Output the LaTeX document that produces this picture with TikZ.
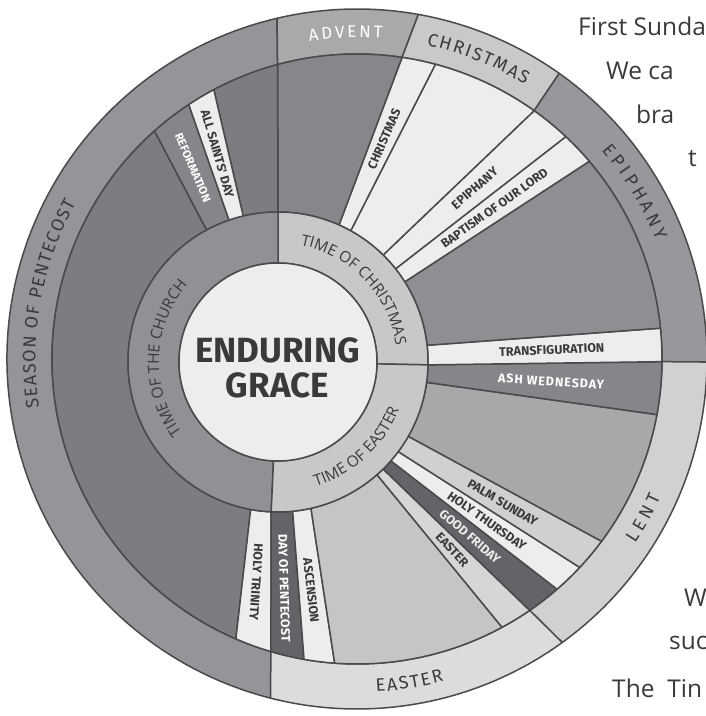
\documentclass[tikz,border=0pt]{standalone}
\usepackage{fontspec}
\setmainfont{Open Sans}
\newfontfamily\fira{Fira Sans}
\usetikzlibrary{calc,decorations.text}
\definecolor{edge}{HTML}{4A4A4D}
\definecolor{ink}{HTML}{3A3A3C}
\definecolor{ringpent}{HTML}{949598}
\definecolor{ringadv}{HTML}{A8A9AB}
\definecolor{ringxmas}{HTML}{C9C9CB}
\definecolor{ringepi}{HTML}{97989B}
\definecolor{ringlent}{HTML}{D1D1D3}
\definecolor{ringeast}{HTML}{DCDCDD}
\definecolor{pent}{HTML}{7C7D80}
\definecolor{adv}{HTML}{86878A}
\definecolor{epi}{HTML}{8E8F92}
\definecolor{lent}{HTML}{A7A8AA}
\definecolor{east}{HTML}{C4C5C7}
\definecolor{eastday}{HTML}{D6D6D7}
\definecolor{palm}{HTML}{D0D0D1}
\definecolor{feast}{HTML}{EDEDED}
\definecolor{midday}{HTML}{85868A}
\definecolor{darkday}{HTML}{636467}
\definecolor{hubl}{HTML}{C8C8CA}
\definecolor{hubd}{HTML}{909194}
\tikzset{
  part/.style={draw=edge, line width=1.5},
  daylbl/.style={font=\fira\bfseries\fontsize{12.5}{12.5}\selectfont, text=ink, inner sep=0pt, sloped, allow upside down, pos=0.53},
  daywht/.style={daylbl, text=white},
  body/.style={font=\fontsize{24.5}{24.5}\selectfont, text=ink, anchor=base west, inner sep=0pt}
}
% label along a band, read from the hub outwards
\newcommand\daylabel[5]{\path ([shift={(#2:\rhub)}]H) -- node[#4] (#1) {#5} ([shift={(#3:\rin)}]C);}
% label along a band, read from the rim inwards
\newcommand\daylabelin[5]{\path ([shift={(#3:\rin)}]C) -- node[#4, pos=0.47] (#1) {#5} ([shift={(#2:\rhub)}]H);}
% text on an arc: centre, radius, from, to, options, text
\newcommand\ringtext[6]{\path[decorate, decoration={text along path, #5, text={#6}}] ([shift={(#3:#2)}]#1) arc[start angle=#3, end angle=#4, radius=#2];}
\begin{document}
\begin{tikzpicture}[x=1pt, y=1pt, line join=round, line cap=round]
\useasboundingbox (0,0) rectangle (706,716);
\clip (0,0) rectangle (706,716);
\def\rcore{99}
\def\rhub{150}
\def\rin{305}
\def\rout{350}
\coordinate (H) at (278,354);
\coordinate (C) at (357,357);
% seasons on the rim
\foreach \ai/\ao/\bi/\bo/\col in {105.1/103.2/253.6/255.7/ringpent, 81.5/79.9/105.1/103.2/ringadv, 54.5/54.7/81.5/79.9/ringxmas, -0.5/-0.5/54.5/54.7/ringepi, -55.5/-54.1/-0.5/-0.5/ringlent, -106.4/-104.3/-55.5/-54.1/ringeast}
  \path[part, fill=\col] ([shift={(\ai:\rin)}]C) -- ([shift={(\ao:\rout)}]C) arc[start angle=\ao, end angle=\bo, radius=\rout] -- ([shift={(\bi:\rin)}]C) arc[start angle=\bi, end angle=\ai, radius=\rin] -- cycle;
% sundays and feasts
\foreach \pa/\qa/\pb/\qb/\col in {118.4/131.6/259.5/246.6/pent, 259.5/246.6/267.4/253.6/feast, 267.4/253.6/275.6/260/darkday, 275.6/260/282.7/265.8/feast, 282.7/265.8/311.3/298.4/east, 311.3/298.4/314.5/304.5/eastday, 314.5/304.5/318.8/311/darkday, 318.8/311/323.3/316.9/feast, 323.3/316.9/330.3/323.3/palm, 330.3/323.3/352.2/349.5/lent, 352.2/349.5/358.9/359.5/midday, 358.9/359.5/366.4/365.8/feast, 6.4/5.8/32.3/40.4/epi, 32.3/40.4/38.4/46.8/feast, 38.4/46.8/45.5/54.5/feast, 45.5/54.5/61/75.1/feast, 61/75.1/66/81.5/feast, 66/81.5/90/105.1/adv, 90/105.1/103.4/118/pent, 103.4/118/109.1/123.5/feast, 109.1/123.5/118.4/131.6/midday}
  \path[part, fill=\col] ([shift={(\pa:\rhub)}]H) -- ([shift={(\qa:\rin)}]C) arc[start angle=\qa, end angle=\qb, radius=\rin] -- ([shift={(\pb:\rhub)}]H) arc[start angle=\pb, end angle=\pa, radius=\rhub] -- cycle;
% the three times
\foreach \a/\b/\col in {-1.1/90/hubl, 90/267.4/hubd, 267.4/358.9/hubl}
  \path[part, fill=\col] ([shift={(\a:\rcore)}]H) -- ([shift={(\a:\rhub)}]H) arc[start angle=\a, end angle=\b, radius=\rhub] -- ([shift={(\b:\rcore)}]H) arc[start angle=\b, end angle=\a, radius=\rcore] -- cycle;
\path[part, fill=feast] (H) circle[radius=\rcore];
\node[font=\fira\bfseries\fontsize{35}{35}\selectfont, text=ink, align=center, inner sep=0pt] (title) at (277.5,348.5) {ENDURING\\GRACE};
% day labels
\daylabelin{allsaints}{106.25}{120.75}{daylbl}{ALL SAINTS' DAY}
\daylabelin{reform}{113.75}{127.55}{daywht, font=\fira\bfseries\fontsize{11.5}{11.5}\selectfont}{REFORMATION}
\daylabel{xmasday}{63.5}{78.3}{daylbl}{CHRISTMAS}
\daylabel{epiday}{41.95}{50.65}{daylbl}{EPIPHANY}
\daylabel{baptism}{35.35}{43.6}{daylbl}{BAPTISM OF OUR LORD}
\daylabel{transfig}{2.65}{2.6}{daylbl}{TRANSFIGURATION}
\daylabel{ashwed}{-4.45}{-5.55}{daywht}{\addfontfeatures{LetterSpace=8}ASH WEDNESDAY}
\daylabel{palmsun}{-33.2}{-40}{daylbl}{PALM SUNDAY}
\daylabel{holythu}{-39}{-46}{daylbl}{HOLY THURSDAY}
\daylabel{goodfri}{-43.35}{-52.25}{daylbl, text=feast}{GOOD FRIDAY}
\daylabel{easterday}{-47.1}{-58.55}{daylbl}{EASTER}
\daylabel{ascension}{-80.85}{-97.1}{daylbl}{ASCENSION}
\daylabel{pentday}{-88.5}{-103.4}{daywht}{DAY OF PENTECOST}
\daylabel{trinity}{-96.55}{-110.1}{daylbl}{HOLY TRINITY}
% season names on the rim
\ringtext{C}{321.5}{98.5}{85.5}{text align={fit to path}, text color=white}{|\fira\fontsize{17}{17}\selectfont|ADVENT}
\ringtext{C}{321.5}{77.5}{58.5}{text align={fit to path}, text color=ink}{|\fira\fontsize{18}{18}\selectfont|CHRISTMAS}
\ringtext{C}{321.5}{40.5}{21.5}{text align={fit to path}, text color=ink}{|\fira\fontsize{18}{18}\selectfont|EPIPHANY}
\ringtext{C}{333.5}{-33.5}{-24.5}{text align={fit to path}, text color=ink}{|\fira\fontsize{18}{18}\selectfont|LENT}
\ringtext{C}{333.5}{-86.7}{-74.9}{text align={fit to path}, text color=ink}{|\fira\fontsize{18}{18}\selectfont|EASTER}
\ringtext{C}{321.5}{188.6}{151}{text align={fit to path}, text color=ink}{|\fira\fontsize{18}{18}\selectfont|SEASON OF PENTECOST}
% times on the hub
\ringtext{H}{119}{103.5}{-16.5}{text align=center, text color=ink}{|\fontsize{15.5}{15.5}\selectfont|TIME OF CHRISTMAS}
\ringtext{H}{119}{237.8}{117.8}{text align=center, text color=ink}{|\fontsize{15.5}{15.5}\selectfont|TIME OF THE CHURCH}
\ringtext{H}{130}{-97.2}{2.8}{text align=center, text color=ink}{|\fontsize{15.5}{15.5}\selectfont|TIME OF EASTER}
% running text beside the wheel
\node[body] (lineA) at (578,680) {First Sunda};
\node[body] (lineB) at (606,636) {We ca};
\node[body] (lineC) at (636,592) {bra};
\node[body] (lineD) at (688,549) {t};
\node[body] (lineE) at (684,109) {W};
\node[body] (lineF) at (669,66) {suc};
\node[body] (lineG) at (612,19) {The\ \ Tin};
\end{tikzpicture}
\end{document}
